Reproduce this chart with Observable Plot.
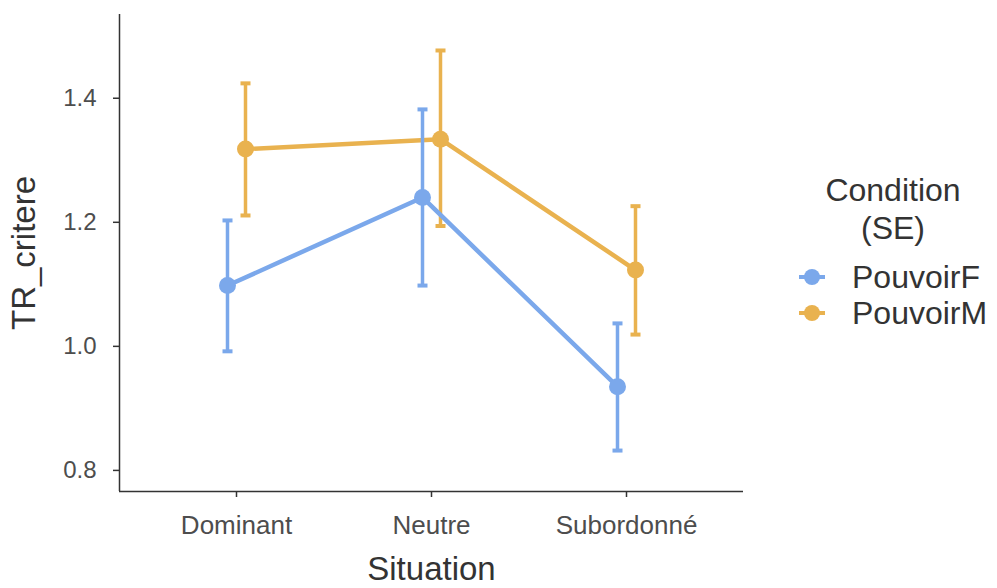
<!DOCTYPE html>
<html>
<head>
<meta charset="utf-8">
<script src="https://cdn.jsdelivr.net/npm/d3@7"></script>
<script src="https://cdn.jsdelivr.net/npm/@observablehq/plot@0.6"></script>
<style>
  body { margin: 0; background: #fff; font-family: "Liberation Sans", Arial, sans-serif; }
  #wrap { position: relative; width: 997px; height: 588px; overflow: hidden; }
  #legend { position: absolute; left: 0; top: 0; width: 997px; height: 588px; color: #333; pointer-events: none; }
  #legend div { position: absolute; font-size: 32px; line-height: 38px; white-space: nowrap; }
  #legend .title { width: 200px; left: 793px; text-align: center; }
  #legend svg { position: absolute; }
</style>
</head>
<body>
<div id="wrap"><div id="legend"></div></div>
<script>
const situations = ["Dominant", "Neutre", "Subordonné"];
const conditions = ["PouvoirF", "PouvoirM"];
const colors = ["#7BA8EB", "#E9B24F"];
const meanF = [1.098, 1.240, 0.935];
const lowF  = [0.992, 1.098, 0.832];
const highF = [1.203, 1.382, 1.037];
const meanM = [1.318, 1.334, 1.123];
const lowM  = [1.211, 1.194, 1.019];
const highM = [1.424, 1.477, 1.226];
const yTicks = [0.8, 1.0, 1.2, 1.4];

const series = [
  {cond: conditions[1], color: colors[1], mean: meanM, low: lowM, high: highM, dx: 9},
  {cond: conditions[0], color: colors[0], mean: meanF, low: lowF, high: highF, dx: -9}
];

const cap = { draw(ctx) { ctx.rect(-5, -2, 10, 4); } };

const marks = [];
for (const s of series) {
  const rows = situations.map((sit, i) => ({sit, m: s.mean[i], lo: s.low[i], hi: s.high[i]}));
  marks.push(
    Plot.ruleX(rows, {x: "sit", y1: "lo", y2: "hi", dx: s.dx, stroke: s.color, strokeWidth: 3.5}),
    Plot.dot(rows, {x: "sit", y: "hi", dx: s.dx, symbol: cap, fill: s.color, stroke: "none"}),
    Plot.dot(rows, {x: "sit", y: "lo", dx: s.dx, symbol: cap, fill: s.color, stroke: "none"}),
    Plot.line(rows, {x: "sit", y: "m", dx: s.dx, stroke: s.color, strokeWidth: 4.5}),
    Plot.dot(rows, {x: "sit", y: "m", dx: s.dx, r: 8.5, fill: s.color, stroke: "none"})
  );
}

const chart = Plot.plot({
  width: 997,
  height: 588,
  marginLeft: 119,
  marginRight: 254,
  marginTop: 14,
  marginBottom: 97,
  style: {fontFamily: "'Liberation Sans', Arial, sans-serif", background: "#fff", overflow: "visible"},
  x: {type: "point", domain: situations, padding: 0.6, label: null},
  y: {domain: [0.766, 1.535], label: null},
  marks: [
    Plot.axisX({tickSize: 6, tickPadding: 18, fontSize: 26, color: "#4D4D4D", label: null, stroke: "#333", strokeWidth: 1.5}),
    Plot.axisY({ticks: yTicks, tickFormat: d3.format(".1f"), tickSize: 6, tickPadding: 17, fontSize: 24, color: "#4D4D4D", label: null, stroke: "#333", strokeWidth: 1.5}),
    Plot.ruleY([0.766], {stroke: "#333", strokeWidth: 1.5}),
    Plot.ruleX([0], {x: () => situations[0], dx: -117, y1: 0.766, y2: 1.535, stroke: "#333", strokeWidth: 1.5}),
    ...marks,
    Plot.text(["TR_critere"], {frameAnchor: "left", textAnchor: "middle", dx: -95, rotate: -90, fontSize: 33, fill: "#333"}),
    Plot.text(["Situation"], {frameAnchor: "bottom", dy: 88, fontSize: 33, fill: "#333"})
  ]
});
document.getElementById("wrap").prepend(chart);

const legend = document.getElementById("legend");
legend.innerHTML =
  `<div class="title" style="top:171px">Condition</div>` +
  `<div class="title" style="top:209px">(SE)</div>` +
  conditions.map((c, i) => {
    const cy = 277 + i * 36;
    return `<svg style="left:797px;top:${cy - 10}px" width="30" height="20"><line x1="2" y1="10" x2="28" y2="10" stroke="${colors[i]}" stroke-width="4"/><circle cx="15" cy="10" r="8" fill="${colors[i]}"/></svg>` +
      `<div style="left:852px;top:${cy - 19}px">${c}</div>`;
  }).join("");
</script>
</body>
</html>
